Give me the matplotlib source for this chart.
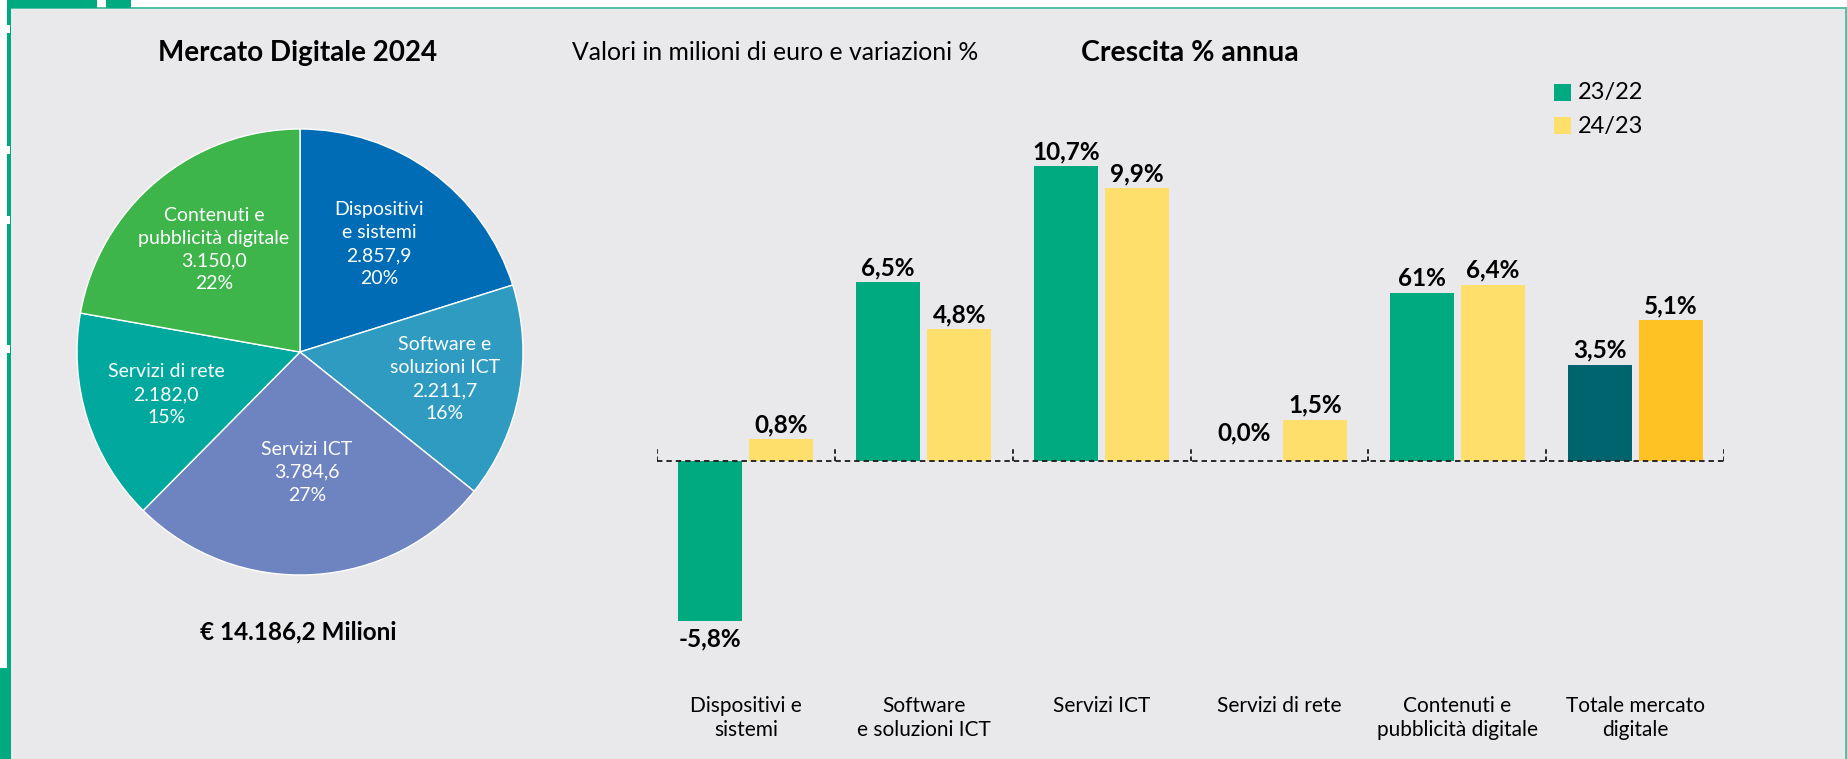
import numpy as np
import matplotlib
matplotlib.use("Agg")
import matplotlib.pyplot as plt
from matplotlib.patches import Rectangle

# ---------------- data ----------------
pie_names = ["Dispositivi\ne sistemi", "Software e\nsoluzioni ICT", "Servizi ICT",
             "Servizi di rete", "Contenuti e\npubblicità digitale"]
pie_values = [2857.9, 2211.7, 3784.6, 2182.0, 3150.0]
pie_colors = ["#006CB5", "#2F9BC1", "#6E84C1", "#00A89D", "#3DB54A"]

categories = ["Dispositivi e\nsistemi", "Software\ne soluzioni ICT", "Servizi ICT",
              "Servizi di rete", "Contenuti e\npubblicità digitale", "Totale mercato\ndigitale"]
growth_23_22 = [-5.8, 6.5, 10.7, 0.0, 6.1, 3.5]
growth_24_23 = [0.8, 4.8, 9.9, 1.5, 6.4, 5.1]
labels_23_22 = ["-5,8%", "6,5%", "10,7%", "0,0%", "61%", "3,5%"]
labels_24_23 = ["0,8%", "4,8%", "9,9%", "1,5%", "6,4%", "5,1%"]
series_names = ["23/22", "24/23"]

GREEN = "#00AA80"
YELLOW = "#FFDF6B"
TEAL = "#00646F"
GOLD = "#FFC225"
BG = "#E9E9EB"
MINT = "#55C1A6"

W, H = 1847, 759
plt.rcParams['font.family'] = ['Lato', 'DejaVu Sans']

fig = plt.figure(figsize=(W / 100, H / 100), dpi=100, facecolor="white")

# background / frame axes in pixel coordinates
bg = fig.add_axes([0, 0, 1, 1])
bg.set_xlim(0, W)
bg.set_ylim(H, 0)
bg.axis("off")
bg.add_patch(Rectangle((10, 8), W - 12, H - 8, facecolor=BG, edgecolor="none", zorder=0))
bg.add_patch(Rectangle((10, 7), W - 10, 2, facecolor=MINT, edgecolor="none", zorder=1))
bg.add_patch(Rectangle((W - 2.5, 7), 2.5, H - 7, facecolor=MINT, edgecolor="none", zorder=1))
bg.add_patch(Rectangle((10, 0), 87, 7.5, facecolor=GREEN, edgecolor="none", zorder=1))
bg.add_patch(Rectangle((106, 0), 25, 7.5, facecolor=GREEN, edgecolor="none", zorder=1))
bg.add_patch(Rectangle((6.5, 0), 4.5, H, facecolor=GREEN, edgecolor="none", zorder=1))
for ny in [25, 146, 216, 345]:
    bg.add_patch(Rectangle((6, ny), 4, 8, facecolor="white", edgecolor="none", zorder=2))
bg.add_patch(Rectangle((0, 668), 11, H - 668, facecolor=GREEN, edgecolor="none", zorder=1))

# titles
bg.text(298, 53, "Mercato Digitale 2024", ha="center", va="center", fontsize=20, fontweight="bold")
bg.text(775, 53, "Valori in milioni di euro e variazioni %", ha="center", va="center", fontsize=17.8)
bg.text(1190, 53, "Crescita % annua", ha="center", va="center", fontsize=20.5, fontweight="bold")
bg.text(298, 632, "€ 14.186,2 Milioni", ha="center", va="center", fontsize=17.5, fontweight="bold")

# ---------------- pie ----------------
cx, cy, R = 300, 352, 223
half = 1.05 * R
axp = fig.add_axes([(cx - half) / W, 1 - (cy + half) / H, 2 * half / W, 2 * half / H])
total = sum(pie_values)


def fmt_it(v):
    s = f"{v:,.1f}"
    return s.replace(",", "X").replace(".", ",").replace("X", ".")


pie_labels = [f"{n}\n{fmt_it(v)}\n{round(v / total * 100):.0f}%" for n, v in zip(pie_names, pie_values)]
wedges, texts = axp.pie(pie_values, labels=pie_labels, colors=pie_colors, startangle=90,
                        counterclock=False, labeldistance=0.6,
                        wedgeprops=dict(edgecolor="white", linewidth=1.0),
                        textprops=dict(color="white", fontsize=14, ha="center", va="center",
                                       linespacing=1.42))
label_r = [0.6, 0.66, 0.54, 0.63, 0.6]
for w, t, r in zip(wedges, texts, label_r):
    th = np.deg2rad((w.theta1 + w.theta2) / 2)
    t.set_position((r * np.cos(th), r * np.sin(th)))
axp.set_xlim(-1.05, 1.05)
axp.set_ylim(-1.05, 1.05)
axp.set_aspect("auto")
axp.axis("off")

# ---------------- bars ----------------
ymin, ymax = -8, 12
px_per_unit = 27.55
zero_px = 461
top_px = zero_px - ymax * px_per_unit
bot_px = zero_px - ymin * px_per_unit
left_px, right_px = 657, 1724
axb = fig.add_axes([left_px / W, 1 - bot_px / H, (right_px - left_px) / W, (bot_px - top_px) / H])
axb.set_facecolor("none")
n = len(categories)
x = np.arange(n)
axb.set_xlim(-0.5, n - 0.5)
axb.set_ylim(ymin, ymax)
c1 = [GREEN] * (n - 1) + [TEAL]
c2 = [YELLOW] * (n - 1) + [GOLD]
off, bw = 0.2, 0.36
axb.bar(x - off, growth_23_22, width=bw, color=c1, zorder=2)
axb.bar(x + off, growth_24_23, width=bw, color=c2, zorder=2)

for xs, vals, labs in [(x - off, growth_23_22, labels_23_22), (x + off, growth_24_23, labels_24_23)]:
    for xi, v, lab in zip(xs, vals, labs):
        if v < 0:
            axb.annotate(lab, (xi, v), xytext=(0, -5), textcoords="offset points",
                         ha="center", va="top", fontsize=17.5, fontweight="bold")
        else:
            axb.annotate(lab, (xi, max(v, 0.5)), xytext=(0, 2), textcoords="offset points",
                         ha="center", va="bottom", fontsize=17.5, fontweight="bold")

bounds = np.arange(n + 1) - 0.5
axb.plot([bounds[0], bounds[-1]], [0, 0], color="#1a1a1a", lw=1.3,
         linestyle=(0, (3, 2.2)), zorder=3)
axb.vlines(bounds, 0, 12 / px_per_unit, color="#1a1a1a", lw=1.3,
           linestyles=[(0, (2.5, 1.5))], zorder=3)

axb.set_xticks(x)
axb.set_xticklabels(categories, fontsize=15, linespacing=1.25)
axb.tick_params(axis="x", length=0, pad=10.5)
axb.set_yticks([])
for s in axb.spines.values():
    s.set_visible(False)

# legend
for i, (name, col) in enumerate(zip(series_names, [GREEN, YELLOW])):
    yy = 84 + i * 33
    bg.add_patch(Rectangle((1554, yy), 17, 17, facecolor=col, edgecolor="none", zorder=3))
    bg.text(1578, yy + 9, name, ha="left", va="center", fontsize=17, zorder=3)

fig.savefig("out.png", dpi=100, facecolor=fig.get_facecolor())
